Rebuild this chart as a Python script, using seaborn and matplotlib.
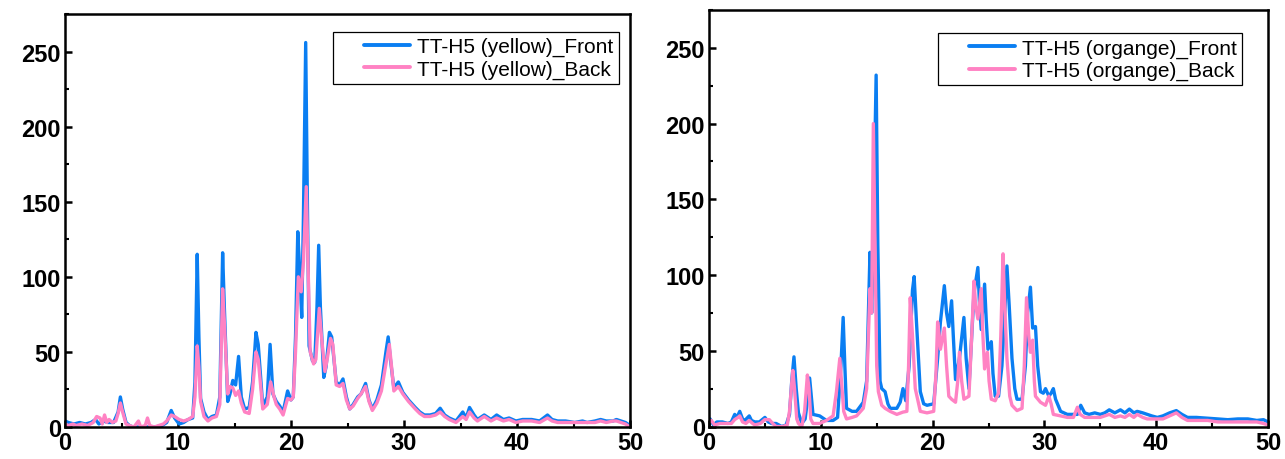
import numpy as np
import pandas as pd
import matplotlib
matplotlib.use("Agg")
import matplotlib.pyplot as plt
import seaborn as sns
from matplotlib.ticker import MultipleLocator
from matplotlib.lines import Line2D
from matplotlib.legend_handler import HandlerLine2D

# 2-theta (deg) / intensity readings, yellow sample
yellow_front_x = [0.0, 0.3, 0.8, 1.3, 1.8, 2.3, 2.7, 3.0, 3.4, 3.8, 4.3, 4.7, 4.9, 5.1, 5.4, 5.7, 6.0, 7.0, 8.0, 8.6,
                  9.0, 9.4, 9.7, 10.1, 10.5, 10.9, 11.3, 11.5, 11.7, 11.85, 12.0, 12.3, 12.65, 13.0, 13.4, 13.7, 13.95,
                  14.1, 14.4, 14.6, 14.85, 15.1, 15.36, 15.6, 15.9, 16.3, 16.6, 16.9, 17.1, 17.5, 17.9, 18.15, 18.4,
                  18.7, 19.0, 19.3, 19.7, 20.0, 20.2, 20.4, 20.6, 20.8, 20.95, 21.1, 21.3, 21.45, 21.6, 21.9, 22.1,
                  22.3, 22.45, 22.6, 22.9, 23.1, 23.4, 23.6, 24.0, 24.3, 24.6, 24.9, 25.2, 25.5, 25.9, 26.2, 26.6,
                  26.9, 27.2, 27.6, 28.0, 28.4, 28.6, 28.8, 29.1, 29.5, 29.9, 30.4, 31.0, 31.4, 31.8, 32.3, 32.8,
                  33.2, 33.6, 34.0, 34.6, 35.2, 35.5, 35.8, 36.2, 36.5, 37.1, 37.7, 38.2, 38.8, 39.3, 39.9, 40.5,
                  41.3, 42.0, 42.7, 43.1, 43.6, 44.3, 45.1, 45.8, 46.2, 46.9, 47.4, 47.9, 48.5, 48.8, 49.2, 49.6, 50.0]
yellow_front_y = [4, 3, 2, 3, 2, 3, 5, 2, 4, 3, 3, 10, 20, 12, 3, 1, 0, 0, 0, 1,
                  3, 11, 6, 2, 3, 5, 6, 30, 115, 60, 19, 10, 5, 7, 8, 20, 116,
                  80, 17, 22, 31, 28, 47, 20, 12, 13, 30, 63, 55, 14, 20, 55, 22,
                  17, 14, 10, 24, 18, 20, 60, 130, 100, 73, 140, 256, 150, 54, 44, 43,
                  80, 121, 80, 33, 40, 63, 60, 30, 28, 32, 20, 12, 15, 20, 22, 29,
                  18, 12, 18, 28, 50, 60, 45, 26, 30, 23, 18, 13, 10, 8, 8, 9,
                  12.5, 8, 6, 4, 10, 6, 13, 8, 5, 8, 5, 8, 5, 6, 4, 5,
                  5, 4, 8, 5, 4, 4, 3, 4, 3, 4, 5, 4, 4, 5, 4, 3, 1]

yellow_back_x = [0.0, 0.3, 0.7, 1.0, 1.5, 2.0, 2.5, 2.8, 3.1, 3.3, 3.5, 3.7, 3.9, 4.2, 4.5, 4.7, 4.9, 5.1, 5.4, 5.7,
                 6.1, 6.4, 6.5, 6.7, 7.1, 7.3, 7.5, 7.9, 8.3, 8.7, 9.0, 9.4, 9.7, 10.1, 10.5, 10.9, 11.3, 11.5, 11.7,
                 11.85, 12.0, 12.3, 12.65, 13.0, 13.4, 13.7, 13.95, 14.1, 14.4, 14.6, 14.85, 15.1, 15.36, 15.6, 15.9,
                 16.3, 16.6, 16.9, 17.1, 17.5, 17.9, 18.2, 18.5, 18.7, 19.0, 19.3, 19.7, 20.0, 20.2, 20.4, 20.65,
                 20.9, 21.1, 21.35, 21.5, 21.7, 22.0, 22.2, 22.5, 22.7, 23.0, 23.2, 23.5, 23.7, 24.0, 24.3, 24.6,
                 24.9, 25.2, 25.5, 25.9, 26.2, 26.6, 26.9, 27.2, 27.6, 28.0, 28.4, 28.7, 28.9, 29.1, 29.5, 29.9,
                 30.4, 31.0, 31.4, 31.8, 32.3, 32.8, 33.2, 33.6, 34.0, 34.6, 35.2, 35.5, 35.8, 36.2, 36.5, 37.1,
                 37.7, 38.2, 38.8, 39.3, 39.9, 40.5, 41.3, 42.0, 42.7, 43.1, 43.6, 44.3, 45.1, 45.8, 46.2, 46.9,
                 47.4, 47.9, 48.5, 48.8, 49.2, 49.6, 50.0]
yellow_back_y = [2, 1, 2, 1, 2, 1, 3, 7, 6, 2, 8, 3, 5, 3, 4, 9, 16, 10, 2, 1,
                 0, 3, 4, 0, 1, 6, 1, 0, 1, 2, 4, 8, 7, 5, 4, 5, 7, 20, 54,
                 40, 17, 7, 4, 6, 7, 15, 92, 70, 22, 27, 26, 21, 24, 16, 10,
                 9, 25, 50, 45, 12, 15, 30, 20, 15, 12, 8, 19, 18, 20, 50, 100,
                 90, 110, 160, 110, 50, 42, 45, 79, 60, 37, 45, 59, 55, 28, 27, 29,
                 18, 12, 14, 19, 22, 27, 17, 11, 16, 24, 42, 55, 40, 24, 27, 22,
                 17, 12, 9, 7, 7, 8, 10, 7, 5, 3, 7, 5, 10, 6, 4, 7,
                 4, 6, 4, 5, 3, 4, 4, 3, 6, 4, 3, 3, 3, 3, 3, 3,
                 4, 3, 4, 4, 3, 2, 0]

# 2-theta (deg) / intensity readings, orange sample
orange_front_x = [0.0, 0.1, 0.4, 0.7, 1.2, 1.7, 2.0, 2.3, 2.5, 2.75, 3.0, 3.2, 3.6, 3.8, 4.1, 4.5, 5.0, 5.3, 5.6, 6.0,
                  6.5, 6.9, 7.2, 7.4, 7.6, 7.8, 8.0, 8.3, 8.6, 8.85, 9.0, 9.15, 9.3, 9.9, 10.5, 11.1, 11.5, 11.8,
                  12.0, 12.15, 12.3, 12.8, 13.2, 13.8, 14.1, 14.4, 14.55, 14.75, 14.95, 15.1, 15.3, 15.45, 15.75,
                  16.0, 16.2, 16.8, 17.1, 17.35, 17.6, 17.9, 18.2, 18.35, 18.55, 18.9, 19.2, 19.5, 20.1, 20.45,
                  20.7, 21.05, 21.25, 21.45, 21.7, 21.85, 22.05, 22.4, 22.8, 23.0, 23.25, 23.5, 23.7, 24.05, 24.2,
                  24.35, 24.65, 24.8, 24.95, 25.25, 25.4, 25.6, 25.9, 26.2, 26.45, 26.65, 26.85, 27.1, 27.35, 27.55,
                  28.0, 28.3, 28.5, 28.75, 28.95, 29.2, 29.4, 29.65, 29.9, 30.1, 30.4, 30.6, 30.8, 31.0, 31.45,
                  32.05, 32.5, 32.95, 33.25, 33.6, 34.0, 34.5, 35.0, 35.4, 35.8, 36.3, 36.8, 37.2, 37.6, 38.0,
                  38.3, 38.8, 39.2, 39.6, 40.1, 40.6, 41.2, 41.8, 42.3, 42.8, 43.6, 44.6, 45.5, 46.4, 47.3, 48.2,
                  49.0, 49.6, 50.0]
orange_front_y = [5, 5, 1, 3, 3, 2, 3, 8, 6, 10, 5, 4, 7, 4, 3, 3, 6, 3, 2, 2,
                  0, 1, 8, 30, 46, 25, 9, 2, 5, 20, 32, 20, 8, 7, 4, 4, 6, 40,
                  72, 40, 12, 10, 10, 16, 30, 115, 75, 150, 232, 120, 30, 25, 23,
                  15, 12, 12, 16, 25, 17, 40, 90, 99, 70, 23, 15, 14, 15, 45,
                  69, 93, 75, 66, 83, 60, 31, 45, 72, 45, 25, 60, 88, 105, 80,
                  64, 94, 70, 51, 56, 35, 20, 20, 40, 75, 106, 80, 45, 25, 18,
                  18, 40, 75, 92, 65, 66, 40, 23, 22, 25, 20, 22, 25, 18, 10,
                  8, 8, 8, 14, 9, 8, 9, 8, 9, 11, 9, 11, 9, 11.5, 9,
                  10, 9, 8, 7, 6, 7, 9, 10.5, 8, 6, 6, 5.5, 5, 4.5, 5, 5,
                  4, 4.5, 3]

orange_back_x = [0.0, 0.2, 0.5, 1.0, 1.5, 2.0, 2.3, 2.6, 2.75, 3.0, 3.3, 3.6, 3.9, 4.1, 4.6, 5.0, 5.4, 5.7, 6.0, 6.6,
                 7.0, 7.2, 7.4, 7.5, 7.65, 7.85, 8.0, 8.3, 8.55, 8.8, 8.95, 9.1, 9.3, 9.9, 10.5, 11.1, 11.4, 11.7,
                 11.85, 12.05, 12.3, 12.8, 13.2, 13.8, 14.1, 14.4, 14.55, 14.7, 14.85, 15.0, 15.15, 15.45, 15.75,
                 16.2, 16.8, 17.35, 17.7, 17.85, 18.0, 18.2, 18.45, 18.9, 19.5, 20.1, 20.3, 20.45, 20.6, 20.7,
                 21.05, 21.25, 21.45, 21.7, 22.05, 22.25, 22.4, 22.6, 22.8, 23.25, 23.5, 23.7, 23.85, 24.05,
                 24.35, 24.5, 24.65, 24.9, 25.05, 25.25, 25.6, 25.9, 26.1, 26.3, 26.45, 26.65, 26.9, 27.1, 27.55,
                 28.0, 28.2, 28.4, 28.6, 28.75, 28.95, 29.1, 29.2, 29.65, 30.1, 30.4, 30.6, 30.8, 31.45, 32.05,
                 32.6, 32.95, 33.2, 33.6, 34.0, 34.5, 35.0, 35.4, 35.8, 36.3, 36.8, 37.2, 37.6, 38.0, 38.3, 38.8,
                 39.2, 39.6, 40.1, 40.6, 41.2, 41.8, 42.3, 42.8, 43.6, 44.6, 45.5, 46.4, 47.3, 48.2, 49.0, 49.6,
                 50.0]
orange_back_y = [3, 4, 1, 2, 2, 2, 4.6, 6, 7, 3, 2, 4, 2, 1, 2, 4.6, 4.5, 2, 0, 0,
                 1, 10, 29, 37, 25, 5, 2, 0, 10, 34, 25, 5, 2, 2, 4, 7, 23, 45,
                 30, 10, 5, 6, 7, 12, 25, 91, 75, 200, 120, 40, 23, 14, 12,
                 10, 8, 9.5, 10, 40, 85, 60, 25, 10, 9, 10, 35, 69, 60, 51,
                 65, 40, 20, 18, 16, 30, 49, 30, 18, 20, 60, 96, 80, 71,
                 91, 60, 38, 49, 30, 18, 17, 22, 60, 114, 80, 45, 20, 14, 10.5,
                 12, 40, 85, 60, 49, 57, 30, 20, 16, 14, 20, 15, 8, 7, 6,
                 6, 12.7, 8, 6, 6, 6, 6, 7, 8, 6, 7, 6, 8, 6, 8, 6,
                 5, 5, 5, 5, 7, 9, 6, 4, 4, 4, 3, 3, 3, 3, 3, 2,
                 1]

yellow_labels = ["TT-H5 (yellow)_Front", "TT-H5 (yellow)_Back"]
orange_labels = ["TT-H5 (organge)_Front", "TT-H5 (organge)_Back"]
x_ticks = [0, 10, 20, 30, 40, 50]
y_ticks = [0, 50, 100, 150, 200, 250]

FRONT_COLOR = "#0A7EF2"
BACK_COLOR = "#FF82C3"

sns.set_theme(style="white")
plt.rcParams["font.family"] = ["Liberation Sans", "DejaVu Sans"]
plt.rcParams["text.color"] = "black"
plt.rcParams["xtick.color"] = "black"
plt.rcParams["ytick.color"] = "black"
plt.rcParams["axes.labelcolor"] = "black"


def long_frame(fx, fy, bx, by, labels):
    front = pd.DataFrame({"two_theta": fx, "intensity": fy, "sample": labels[0]})
    back = pd.DataFrame({"two_theta": bx, "intensity": by, "sample": labels[1]})
    return pd.concat([front, back], ignore_index=True)


fig = plt.figure(figsize=(12.85, 4.6), dpi=100)
ax_left = fig.add_axes([65 / 1285, 1 - 428 / 460, 565 / 1285, 413 / 460])
ax_right = fig.add_axes([709 / 1285, 1 - 427.5 / 460, 559 / 1285, 416.5 / 460])

panels = [
    (ax_left, long_frame(yellow_front_x, yellow_front_y, yellow_back_x, yellow_back_y, yellow_labels),
     yellow_labels, (0.980, 0.957)),
    (ax_right, long_frame(orange_front_x, orange_front_y, orange_back_x, orange_back_y, orange_labels),
     orange_labels, (0.954, 0.944)),
]

for ax, df, labels, anchor in panels:
    sns.lineplot(data=df, x="two_theta", y="intensity", hue="sample", hue_order=labels,
                 palette={labels[0]: FRONT_COLOR, labels[1]: BACK_COLOR},
                 estimator=None, linewidth=2.4, ax=ax,
                 solid_joinstyle="round", solid_capstyle="round")
    ax.set_xlim(0, 50)
    ax.set_ylim(0, 275)
    ax.set_xlabel("")
    ax.set_ylabel("")
    ax.set_xticks(x_ticks)
    ax.set_yticks(y_ticks)
    ax.xaxis.set_minor_locator(MultipleLocator(5))
    ax.yaxis.set_minor_locator(MultipleLocator(25))
    ax.tick_params(axis="both", which="major", direction="in", length=5, width=1.8,
                   labelsize=17, pad=3, bottom=True, left=True, top=False, right=False,
                   colors="black")
    ax.tick_params(axis="both", which="minor", direction="in", length=3, width=1.5,
                   bottom=True, left=True, top=False, right=False, colors="black")
    for lbl in ax.get_xticklabels() + ax.get_yticklabels():
        lbl.set_fontweight("bold")
        lbl.set_color("black")
    for spine in ax.spines.values():
        spine.set_linewidth(1.8)
        spine.set_color("black")
    handles, names = ax.get_legend_handles_labels()
    leg = ax.legend(handles, names, loc="upper right", bbox_to_anchor=anchor,
                    fontsize=15, frameon=True, fancybox=False, framealpha=1,
                    edgecolor="black", handlelength=3.45, handletextpad=0.34,
                    borderpad=0.25, labelspacing=0.15, borderaxespad=0,
                    handler_map={Line2D: HandlerLine2D(xpad=1.22)})
    leg.get_frame().set_linewidth(0.9)
    for line in leg.get_lines():
        line.set_linewidth(2.8)

fig.savefig("out.png", dpi=100)
